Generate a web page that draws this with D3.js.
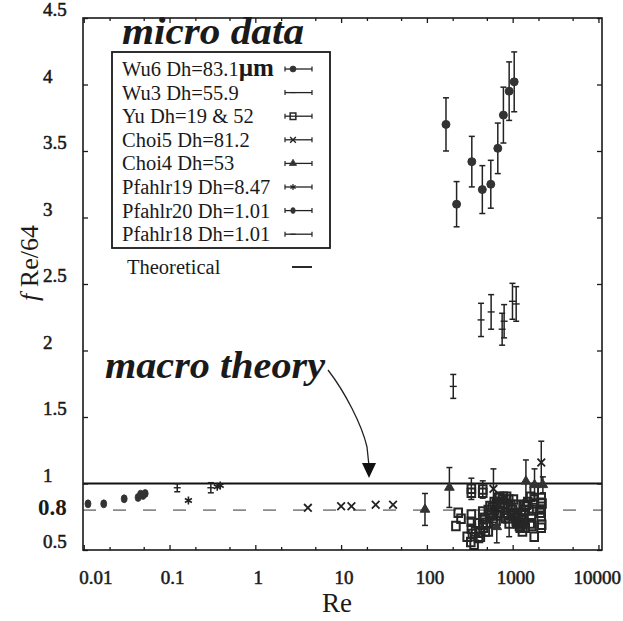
<!DOCTYPE html>
<html>
<head>
<meta charset="utf-8">
<script src="https://cdn.jsdelivr.net/npm/d3@7"></script>
<style>
  html, body { margin: 0; padding: 0; background: #fff; }
  svg { display: block; }
  text { font-family: "Liberation Serif", "Times New Roman", serif; fill: #1a1a1a; }
</style>
</head>
<body>
<script>
// ---- data: Re, fRe/64 and error half-widths per data set ----
const wu6Re  = [167, 222, 334, 443, 556, 671, 780, 910, 1042];
const wu6Val = [3.70, 3.10, 3.42, 3.21, 3.25, 3.52, 3.77, 3.95, 4.02];
const wu6Err = [0.20, 0.17, 0.19, 0.18, 0.18, 0.19, 0.21, 0.22, 0.225];

const wu3Re  = [203, 428, 561, 754, 795, 995, 1099];
const wu3Val = [1.73, 2.23, 2.29, 2.16, 2.22, 2.37, 2.35];
const wu3Err = [0.09, 0.125, 0.13, 0.12, 0.125, 0.135, 0.13];

const yuRe  = [218, 232, 250, 330, 330, 330, 330, 330, 295, 325, 355, 400, 418, 455, 500, 520,
               448, 448, 448, 448, 448, 545, 560, 590, 620, 650, 680, 703, 714, 700, 640,
               760, 800, 850, 900, 950, 1000, 820, 880, 910, 1050, 1100, 1150, 1200, 1250, 1300,
               1350, 1400, 1450, 1500, 1224, 1300, 1400, 1784, 1784, 1650, 1700, 1750, 1784,
               2150, 2150, 2150, 2150, 2150, 2180,
               520, 540, 580, 600, 610, 660, 730, 780, 830, 870, 960, 1020, 1080, 1120, 1180,
               1260, 1330, 1380, 1550, 1600, 1620, 1680, 2100, 2200, 370, 390, 470, 480, 420, 340];
const yuVal = [0.68, 0.78, 0.735, 0.96, 0.93, 0.767, 0.712, 0.66, 0.60, 0.56, 0.54, 0.59, 0.63, 0.667, 0.705, 0.64,
               0.955, 0.93, 0.79, 0.74, 0.69, 0.83, 0.78, 0.74, 0.80, 0.85, 0.89, 0.90, 0.86, 0.78, 0.72,
               0.88, 0.85, 0.90, 0.88, 0.84, 0.80, 0.78, 0.74, 0.70, 0.76, 0.72, 0.70, 0.68, 0.70, 0.73,
               0.76, 0.80, 0.84, 0.86, 0.667, 0.64, 0.667, 0.60, 0.955, 0.75, 0.80, 0.85, 0.88,
               0.89, 0.855, 0.805, 0.754, 0.667, 0.69,
               0.80, 0.76, 0.82, 0.70, 0.86, 0.76, 0.82, 0.90, 0.74, 0.82, 0.76, 0.88, 0.84, 0.78, 0.74,
               0.76, 0.72, 0.84, 0.80, 0.70, 0.90, 0.68, 0.78, 0.85, 0.64, 0.70, 0.74, 0.64, 0.60, 0.62];
const yuErr = [0, 0, 0, 0.08, 0, 0, 0, 0, 0, 0, 0, 0, 0, 0, 0, 0,
               0.065, 0, 0, 0, 0, 0, 0, 0, 0, 0, 0, 0, 0, 0, 0,
               0, 0, 0, 0, 0, 0, 0, 0, 0.1, 0, 0, 0, 0, 0, 0,
               0, 0, 0, 0, 0, 0, 0, 0, 0, 0, 0, 0, 0,
               0, 0, 0, 0, 0, 0,
               0, 0, 0, 0, 0, 0, 0, 0, 0, 0, 0, 0, 0, 0, 0,
               0, 0, 0, 0, 0, 0, 0, 0, 0, 0, 0, 0, 0, 0, 0];

const choi5Re  = [4.1, 10.0, 13.2, 25.3, 40.3, 597, 2155];
const choi5Val = [0.817, 0.829, 0.829, 0.84, 0.84, 0.96, 1.158];
const choi5Err = [0, 0, 0, 0, 0, 0.15, 0.16];

const choi4Re  = [95, 183, 653, 1427, 1798, 2250];
const choi4Val = [0.805, 0.97, 0.674, 1.017, 0.99, 0.99];
const choi4Err = [0.12, 0.15, 0.12, 0.16, 0.12, 0.06];

const pf19Re  = [0.166, 0.36, 0.39];
const pf19Val = [0.872, 0.975, 0.985];
const pf19Err = [0, 0, 0];

const pf20Re  = [0.0112, 0.0171, 0.0296, 0.043, 0.046, 0.049, 0.052];
const pf20Val = [0.847, 0.847, 0.885, 0.895, 0.92, 0.91, 0.925];
const pf20Err = [0, 0, 0, 0, 0, 0, 0];

const pf18Re  = [0.123, 0.303];
const pf18Val = [0.968, 0.968];
const pf18Err = [0.03, 0.038];

const theoretical = 1.0;   // macro theory, fRe/64 = 1
const guideValue = 0.8;    // dashed reference level

const xTicks = [0.01, 0.1, 1, 10, 100, 1000, 10000];
const xTickLabels = ["0.01", "0.1", "1", "10", "100", "1000", "10000"];
const yTicks = [0.5, 1, 1.5, 2, 2.5, 3, 3.5, 4, 4.5];
const yTickLabels = ["0.5", "1", "1.5", "2", "2.5", "3", "3.5", "4", "4.5"];

const legendNames = ["Wu6 Dh=83.1", "Wu3 Dh=55.9", "Yu Dh=19 & 52", "Choi5 Dh=81.2",
                     "Choi4 Dh=53", "Pfahlr19 Dh=8.47", "Pfahlr20 Dh=1.01", "Pfahlr18 Dh=1.01"];

(function draw() {
  // ---- layout ----
  const W = 623, H = 621;
  const pLeft = 83, pRight = 602, pTop = 18, pBottom = 550;

  const x = d3.scaleLog().domain([0.0098, 11000]).range([pLeft, pRight]);
  const y = d3.scaleLinear().domain([0.5, 4.5]).range([pBottom, pTop]);

  const svg = d3.select("body").append("svg").attr("width", W).attr("height", H);
  svg.append("rect").attr("width", W).attr("height", H).attr("fill", "#fff");

  const ink = "#222";

  // marker paths
  const sym = (type, size) => d3.symbol().type(type).size(size)();
  const tickMark = "M-3.5,0H3.5";
  const markers = {
    wu6:  { d: sym(d3.symbolCircle, 50), fill: "#333", stroke: "#333", sw: 1 },
    wu3:  { d: tickMark, fill: "none", stroke: ink, sw: 1.4 },
    yu:   { d: "M-3.8,-4.3H3.8V4.3H-3.8Z", fill: "none", stroke: "#262626", sw: 2 },
    choi5:{ d: sym(d3.symbolTimes, 40), fill: "none", stroke: ink, sw: 1.8 },
    choi4:{ d: sym(d3.symbolTriangle, 40), fill: "#333", stroke: "#333", sw: 1 },
    pf19: { d: sym(d3.symbolAsterisk, 45), fill: "none", stroke: ink, sw: 1.6 },
    pf20: { d: "M0,-4A3,4 0 1,1 0,4A3,4 0 1,1 0,-4Z", fill: "#333", stroke: "#333", sw: 0.8 },
    pf18: { d: tickMark, fill: "none", stroke: ink, sw: 1.4 }
  };

  const series = [
    { key: "wu6",   re: wu6Re,   v: wu6Val,   e: wu6Err },
    { key: "wu3",   re: wu3Re,   v: wu3Val,   e: wu3Err },
    { key: "yu",    re: yuRe,    v: yuVal,    e: yuErr },
    { key: "choi5", re: choi5Re, v: choi5Val, e: choi5Err },
    { key: "choi4", re: choi4Re, v: choi4Val, e: choi4Err },
    { key: "pf19",  re: pf19Re,  v: pf19Val,  e: pf19Err },
    { key: "pf20",  re: pf20Re,  v: pf20Val,  e: pf20Err },
    { key: "pf18",  re: pf18Re,  v: pf18Val,  e: pf18Err }
  ];

  // ---- reference lines ----
  svg.append("line")
    .attr("x1", pLeft).attr("x2", pRight)
    .attr("y1", y(guideValue)).attr("y2", y(guideValue))
    .attr("stroke", "#8a8a8a").attr("stroke-width", 1.6)
    .attr("stroke-dasharray", "13,17");

  svg.append("line")
    .attr("x1", pLeft).attr("x2", pRight)
    .attr("y1", y(theoretical)).attr("y2", y(theoretical))
    .attr("stroke", "#111").attr("stroke-width", 2.2);

  // ---- data: error bars + markers ----
  const plot = svg.append("g");
  series.forEach(s => {
    const pts = s.re.map((r, i) => ({ re: r, v: s.v[i], e: s.e[i] }));
    const g = plot.append("g");
    const withErr = pts.filter(p => p.e > 0);
    const eb = g.selectAll(".eb").data(withErr).enter().append("g")
      .attr("stroke", ink).attr("stroke-width", 1.5);
    eb.append("line")
      .attr("x1", p => x(p.re)).attr("x2", p => x(p.re))
      .attr("y1", p => y(p.v + p.e)).attr("y2", p => y(p.v - p.e));
    eb.append("line")
      .attr("x1", p => x(p.re) - 3).attr("x2", p => x(p.re) + 3)
      .attr("y1", p => y(p.v + p.e)).attr("y2", p => y(p.v + p.e));
    eb.append("line")
      .attr("x1", p => x(p.re) - 3).attr("x2", p => x(p.re) + 3)
      .attr("y1", p => y(p.v - p.e)).attr("y2", p => y(p.v - p.e));
    const m = markers[s.key];
    g.selectAll(".pt").data(pts).enter().append("path")
      .attr("d", m.d)
      .attr("transform", p => `translate(${x(p.re)},${y(p.v)})`)
      .attr("fill", m.fill).attr("stroke", m.stroke).attr("stroke-width", m.sw);
  });

  // ---- frame and ticks ----
  svg.append("rect")
    .attr("x", pLeft).attr("y", pTop)
    .attr("width", pRight - pLeft).attr("height", pBottom - pTop)
    .attr("fill", "none").attr("stroke", "#1a1a1a").attr("stroke-width", 1.6);

  const minorX = [];
  for (let p = -2; p <= 4; p++) [2, 5].forEach(m => {
    const v = m * Math.pow(10, p);
    if (v < x.domain()[1]) minorX.push(v);
  });

  const axB = d3.axisBottom(x).tickValues(xTicks).tickSize(-5).tickFormat("");
  const axBm = d3.axisBottom(x).tickValues(minorX).tickSize(-3).tickFormat("");
  const axT = d3.axisTop(x).tickValues(xTicks).tickSize(-5).tickFormat("");
  const axTm = d3.axisTop(x).tickValues(minorX).tickSize(-3).tickFormat("");
  const axL = d3.axisLeft(y).tickValues(yTicks).tickSize(-5).tickFormat("");
  const axR = d3.axisRight(y).tickValues(yTicks).tickSize(-5).tickFormat("");

  [[axB, `translate(0,${pBottom})`], [axBm, `translate(0,${pBottom})`],
   [axT, `translate(0,${pTop})`], [axTm, `translate(0,${pTop})`],
   [axL, `translate(${pLeft},0)`], [axR, `translate(${pRight},0)`]].forEach(([ax, t]) => {
    const g = svg.append("g").attr("transform", t).call(ax);
    g.select(".domain").remove();
    g.selectAll("line").attr("stroke", "#1a1a1a").attr("stroke-width", 1.3);
  });

  // tick labels (medium weight: regular face with a thin outline)
  const tickStyle = sel => sel
    .attr("font-size", 19)
    .attr("stroke", "#1a1a1a").attr("stroke-width", 0.55);

  const xl = svg.append("g").selectAll("text").data(xTicks).enter().append("text")
    .attr("y", 584)
    .attr("text-anchor", "middle")
    .call(tickStyle)
    .text((d, i) => xTickLabels[i]);
  // keep labels inside the page: the first clears the frame corner, the last the right edge
  xl.attr("x", function (d, i) {
    const half = this.getComputedTextLength() / 2;
    const cx = x(d) + (i === 0 ? 12 : 3);
    return Math.min(cx, W - half - 2);
  });

  svg.append("g").selectAll("text").data(yTicks).enter().append("text")
    .attr("x", 43)
    .attr("y", d => y(d) - 2)
    .call(tickStyle)
    .text(d => yTickLabels[yTicks.indexOf(d)]);

  svg.append("text")
    .attr("x", 38).attr("y", y(guideValue) + 5)
    .attr("font-size", 23).attr("font-weight", "bold").attr("fill", "#000")
    .text("0.8");

  // axis titles
  svg.append("text")
    .attr("x", 337).attr("y", 612)
    .attr("text-anchor", "middle").attr("font-size", 27)
    .text("Re");

  const yt = svg.append("text")
    .attr("transform", "translate(38,263) rotate(-90)")
    .attr("text-anchor", "middle").attr("font-size", 26);
  yt.append("tspan").attr("font-style", "italic").text("f");
  yt.append("tspan").text(" Re/64");

  // ---- legend ----
  const lg = svg.append("g");
  lg.append("rect")
    .attr("x", 112).attr("y", 52).attr("width", 218).attr("height", 196)
    .attr("fill", "#fff").attr("stroke", "#1a1a1a").attr("stroke-width", 1.8);

  const rowY = i => 69 + i * 23.6;
  legendNames.forEach((name, i) => {
    const cy = rowY(i);
    const t = lg.append("text").attr("x", 122).attr("y", cy + 7).attr("font-size", 20.5).text(name);
    if (i === 0) t.append("tspan").attr("font-size", 25).attr("font-weight", "bold").text("\u00b5m");
    lg.append("line").attr("x1", 285).attr("x2", 312).attr("y1", cy).attr("y2", cy)
      .attr("stroke", ink).attr("stroke-width", 1.3);
    [285, 312].forEach(cx => lg.append("line").attr("x1", cx).attr("x2", cx)
      .attr("y1", cy - 2.5).attr("y2", cy + 2.5).attr("stroke", ink).attr("stroke-width", 1.2));
    const m = markers[series[i].key];
    lg.append("path").attr("d", m.d).attr("transform", `translate(293,${cy}) scale(0.75)`)
      .attr("fill", m.fill).attr("stroke", m.stroke).attr("stroke-width", m.sw);
  });
  const ty = 267;
  lg.append("text").attr("x", 127).attr("y", ty + 7).attr("font-size", 20.5).text("Theoretical");
  lg.append("line").attr("x1", 292).attr("x2", 312).attr("y1", ty).attr("y2", ty)
    .attr("stroke", "#111").attr("stroke-width", 1.8);

  // ---- annotations ----
  svg.append("text")
    .attr("x", 122).attr("y", 44)
    .attr("font-size", 38).attr("font-style", "italic").attr("font-weight", "bold")
    .attr("textLength", 182).attr("lengthAdjust", "spacingAndGlyphs")
    .attr("fill", "#000")
    .text("micro data");

  svg.append("text")
    .attr("x", 105).attr("y", 378)
    .attr("font-size", 38).attr("font-style", "italic").attr("font-weight", "bold")
    .attr("textLength", 220).attr("lengthAdjust", "spacingAndGlyphs")
    .attr("fill", "#000")
    .text("macro theory");

  svg.append("path")
    .attr("d", "M328,370 C345,392 362,425 367,447 L369,466")
    .attr("fill", "none").attr("stroke", "#222").attr("stroke-width", 1.3);
  svg.append("path")
    .attr("d", "M362,463 L376,463 L369,478 Z")
    .attr("fill", "#111");
})();
</script>
</body>
</html>
